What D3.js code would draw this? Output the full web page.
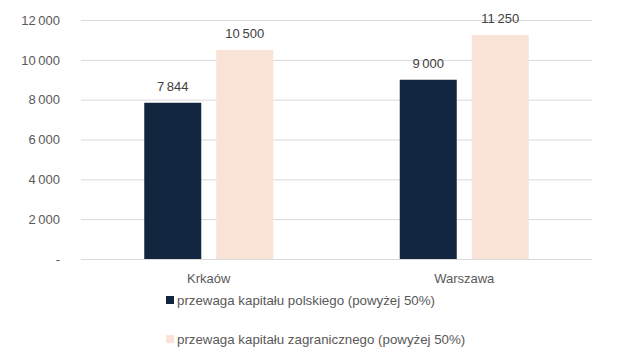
<!DOCTYPE html>
<html>
<head>
  <meta charset="UTF-8">
  <script src="https://d3js.org/d3.v7.min.js"></script>
  <style>
    body { margin: 0; padding: 0; background: white; }
    svg { display: block; font-family: "Liberation Sans", Arial, sans-serif; }
    .grid line { stroke: #d9d9d9; }
    .grid .domain { display: none; }
    .axis text { fill: #595959; font-size: 13px; }
    .axis .domain, .axis line { display: none; }
    .value { fill: #404040; font-size: 13px; text-anchor: middle; }
    .legend text { fill: #595959; font-size: 13.3px; }
  </style>
</head>
<body>
  <svg id="chart" width="630" height="352"></svg>
  <script>
    var cities = ["Krkaów", "Warszawa"];
    var seriesNames = ["przewaga kapitału polskiego (powyżej 50%)", "przewaga kapitału zagranicznego (powyżej 50%)"];
    var polish = [7844, 9000];
    var foreign = [10500, 11250];
    var yTicks = [0, 2000, 4000, 6000, 8000, 10000, 12000];
    var colors = ["#12273f", "#f9e2d6"];

    var margin = { top: 20, right: 38, bottom: 93, left: 81 };
    var width = 630 - margin.left - margin.right;
    var height = 352 - margin.top - margin.bottom;

    var svg = d3.select("#chart")
      .append("g")
      .attr("transform", "translate(" + margin.left + "," + margin.top + ")");

    var x = d3.scaleBand().domain(cities).range([0, width]);
    var y = d3.scaleLinear().domain([0, 12000]).range([height, 0]);

    // liczby w formacie ze spacją jako separatorem tysięcy
    var fmt = function (v) {
      if (v === 0) return "-";
      return d3.format(",")(v).replace(/,/g, "\u2009");
    };

    // linie siatki
    svg.append("g")
      .attr("class", "grid")
      .call(d3.axisLeft(y).tickValues(yTicks).tickSize(-width).tickFormat(""));

    svg.append("g")
      .attr("class", "axis")
      .attr("transform", "translate(-10,0)")
      .call(d3.axisLeft(y).tickValues(yTicks).tickSize(0).tickFormat(fmt))
      .selectAll("text").attr("dx", "-8");

    svg.append("g")
      .attr("class", "axis")
      .attr("transform", "translate(0," + height + ")")
      .call(d3.axisBottom(x).tickSize(0))
      .selectAll("text").attr("dy", "1.65em");

    var barW = 57, gap = 15;
    var data = cities.map(function (c, i) {
      return [{ city: c, s: 0, v: polish[i] }, { city: c, s: 1, v: foreign[i] }];
    }).flat();

    function barX(d) {
      var c = x(d.city) + x.bandwidth() / 2;
      return d.s === 0 ? c - gap / 2 - barW : c + gap / 2;
    }

    svg.selectAll(".bar")
      .data(data)
      .enter()
      .append("rect")
      .attr("x", barX)
      .attr("y", d => y(d.v))
      .attr("width", barW)
      .attr("height", d => height - y(d.v))
      .attr("fill", d => colors[d.s]);

    svg.selectAll(".value")
      .data(data)
      .enter()
      .append("text")
      .attr("class", "value")
      .attr("x", d => barX(d) + barW / 2)
      .attr("y", d => y(d.v) - 12)
      .text(d => fmt(d.v));

    // legenda
    var legend = svg.append("g")
      .attr("class", "legend")
      .attr("transform", "translate(85," + (height + 37) + ")");

    var items = legend.selectAll("g")
      .data(seriesNames)
      .enter()
      .append("g")
      .attr("transform", (d, i) => "translate(0," + i * 39 + ")");

    items.append("rect")
      .attr("x", 0).attr("y", 0)
      .attr("width", 8).attr("height", 8)
      .attr("fill", (d, i) => colors[i]);

    items.append("text")
      .attr("x", 11).attr("y", 8.5)
      .text(d => d);
  </script>
</body>
</html>
